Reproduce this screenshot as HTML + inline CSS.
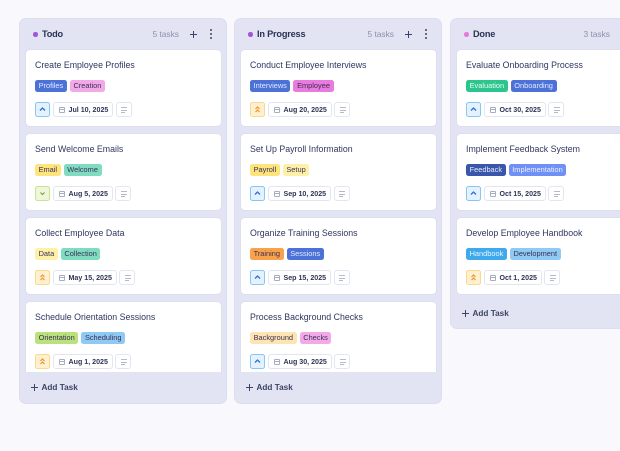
<!DOCTYPE html>
<html><head><meta charset="utf-8">
<style>
*{box-sizing:border-box;margin:0;padding:0}
html,body{width:620px;height:451px;overflow:hidden;background:#f8f8fd;font-family:"Liberation Sans",sans-serif}
.col{position:absolute;top:18px;width:208px;background:#e3e4f3;border:1px solid #dcdef0;border-radius:7px;overflow:hidden}
.hdr{position:absolute;left:0;top:0;width:208px;height:31px}
.dot{position:absolute;left:13px;top:13px;width:4.5px;height:4.5px;border-radius:50%}
.ht{position:absolute;left:22px;top:8.5px;line-height:13px;font-size:9.2px;font-weight:bold;color:#2b3254;letter-spacing:-0.2px}
.cnt{position:absolute;right:49px;top:9px;line-height:12px;font-size:8.4px;color:#8c91ab}
.plus{position:absolute;left:169.5px;top:11.5px;width:7px;height:7px}
.plus:before{content:"";position:absolute;left:0;top:3px;width:7px;height:1px;background:#3c4366}
.plus:after{content:"";position:absolute;left:3px;top:0;width:1px;height:7px;background:#3c4366}
.keb{position:absolute;left:190px;top:10px;width:2px;height:10px}
.keb i{position:absolute;left:0;width:2px;height:2px;border-radius:50%;background:#3c4366}
.list{position:absolute;left:4.5px;top:30px;width:197px;overflow:hidden}
.card{position:relative;width:197px;height:78px;background:#fff;border:1px solid #dcdff0;border-radius:5px;margin-bottom:6px}
.tt{position:absolute;left:9.5px;top:9px;line-height:12px;font-size:8.8px;color:#2f3760;white-space:nowrap}
.tags{position:absolute;left:9.5px;top:30px;height:12px;display:flex;gap:3px}
.tag{height:12px;line-height:12px;font-size:7.4px;padding:0 3.6px;border-radius:2.5px;color:#3a2f55;white-space:nowrap}
.row{position:absolute;left:9.5px;top:52px;height:15px;display:flex;gap:2.5px}
.pri{width:15px;height:15px;border-radius:2.5px;border:1px solid}
.pri svg{display:block}
.up{background:#e3f2fe;border-color:#86c8f4}
.dbl{background:#fff1cf;border-color:#f8d98e}
.dn{background:#eef7da;border-color:#c9e48e}
.date{height:15px;border:1px solid #e3e5f2;border-radius:3px;background:#fff;display:flex;align-items:center;padding:0 4px 0 5px;font-size:7.1px;font-weight:bold;color:#2d3555;white-space:nowrap}
.cal{width:6px;height:6px;border:1px solid #a9adc2;border-radius:1px;margin-right:4px;position:relative}
.cal:before{content:"";position:absolute;left:0;top:1px;width:4px;height:0.8px;background:#a9adc2}
.note{width:16px;height:15px;border:1px solid #e3e5f2;border-radius:3px;background:#fff;position:relative}
.note i{position:absolute;left:4.5px;height:0.9px;background:#b5b9cc}
.add{position:absolute;left:0;width:208px;height:32px}
.add .p{position:absolute;left:10.5px;top:12px;width:7px;height:7px}
.add .p:before{content:"";position:absolute;left:0;top:3px;width:7px;height:1px;background:#3c4366}
.add .p:after{content:"";position:absolute;left:3px;top:0;width:1px;height:7px;background:#3c4366}
.add span{position:absolute;left:21.5px;top:9px;line-height:13px;font-size:8.2px;font-weight:bold;color:#3c4366}
</style></head><body>

<!-- Column 1 -->
<div class="col" style="left:19px;height:386px">
  <div class="hdr"><div class="dot" style="background:#a455d4"></div><div class="ht">Todo</div><div class="cnt">5 tasks</div><div class="plus"></div><div class="keb"><i style="top:0"></i><i style="top:4px"></i><i style="top:8px"></i></div></div>
  <div class="list" style="height:323px">
    <div class="card"><div class="tt">Create Employee Profiles</div>
      <div class="tags"><div class="tag" style="background:#4c72d8;color:#e4eaff">Profiles</div><div class="tag" style="background:#f3a9e8">Creation</div></div>
      <div class="row"><div class="pri up"><svg width="13" height="13"><path d="M4 7.5L6.5 5L9 7.5" fill="none" stroke="#2f6fd0" stroke-width="1.3"/></svg></div><div class="date"><div class="cal"></div>Jul 10, 2025</div><div class="note"><i style="top:4px;width:6px"></i><i style="top:6.5px;width:6px"></i><i style="top:9px;width:4px"></i></div></div></div>
    <div class="card"><div class="tt">Send Welcome Emails</div>
      <div class="tags"><div class="tag" style="background:#fde47c">Email</div><div class="tag" style="background:#80dcc0">Welcome</div></div>
      <div class="row"><div class="pri dn"><svg width="13" height="13"><path d="M4.5 5.5L6.5 7.5L8.5 5.5" fill="none" stroke="#8f9c45" stroke-width="1.2"/></svg></div><div class="date"><div class="cal"></div>Aug 5, 2025</div><div class="note"><i style="top:4px;width:6px"></i><i style="top:6.5px;width:6px"></i><i style="top:9px;width:4px"></i></div></div></div>
    <div class="card"><div class="tt">Collect Employee Data</div>
      <div class="tags"><div class="tag" style="background:#fdf1a8">Data</div><div class="tag" style="background:#80dcc0">Collection</div></div>
      <div class="row"><div class="pri dbl"><svg width="13" height="13"><path d="M4.5 6L6.5 4L8.5 6M4.5 9L6.5 7L8.5 9" fill="none" stroke="#f0922a" stroke-width="1.2"/></svg></div><div class="date"><div class="cal"></div>May 15, 2025</div><div class="note"><i style="top:4px;width:6px"></i><i style="top:6.5px;width:6px"></i><i style="top:9px;width:4px"></i></div></div></div>
    <div class="card"><div class="tt">Schedule Orientation Sessions</div>
      <div class="tags"><div class="tag" style="background:#b9e27c">Orientation</div><div class="tag" style="background:#8fcaf5">Scheduling</div></div>
      <div class="row"><div class="pri dbl"><svg width="13" height="13"><path d="M4.5 6L6.5 4L8.5 6M4.5 9L6.5 7L8.5 9" fill="none" stroke="#f0922a" stroke-width="1.2"/></svg></div><div class="date"><div class="cal"></div>Aug 1, 2025</div><div class="note"><i style="top:4px;width:6px"></i><i style="top:6.5px;width:6px"></i><i style="top:9px;width:4px"></i></div></div></div>
  </div>
  <div class="add" style="top:353px"><div class="p"></div><span>Add Task</span></div>
</div>

<!-- Column 2 -->
<div class="col" style="left:234px;height:386px">
  <div class="hdr"><div class="dot" style="background:#a455d4"></div><div class="ht">In Progress</div><div class="cnt">5 tasks</div><div class="plus"></div><div class="keb"><i style="top:0"></i><i style="top:4px"></i><i style="top:8px"></i></div></div>
  <div class="list" style="height:323px">
    <div class="card"><div class="tt">Conduct Employee Interviews</div>
      <div class="tags"><div class="tag" style="background:#4c72d8;color:#e4eaff">Interviews</div><div class="tag" style="background:#e97ade">Employee</div></div>
      <div class="row"><div class="pri dbl"><svg width="13" height="13"><path d="M4.5 6L6.5 4L8.5 6M4.5 9L6.5 7L8.5 9" fill="none" stroke="#f0922a" stroke-width="1.2"/></svg></div><div class="date"><div class="cal"></div>Aug 20, 2025</div><div class="note"><i style="top:4px;width:6px"></i><i style="top:6.5px;width:6px"></i><i style="top:9px;width:4px"></i></div></div></div>
    <div class="card"><div class="tt">Set Up Payroll Information</div>
      <div class="tags"><div class="tag" style="background:#fde47c">Payroll</div><div class="tag" style="background:#fdf1a8">Setup</div></div>
      <div class="row"><div class="pri up"><svg width="13" height="13"><path d="M4 7.5L6.5 5L9 7.5" fill="none" stroke="#2f6fd0" stroke-width="1.3"/></svg></div><div class="date"><div class="cal"></div>Sep 10, 2025</div><div class="note"><i style="top:4px;width:6px"></i><i style="top:6.5px;width:6px"></i><i style="top:9px;width:4px"></i></div></div></div>
    <div class="card"><div class="tt">Organize Training Sessions</div>
      <div class="tags"><div class="tag" style="background:#f9a24c">Training</div><div class="tag" style="background:#4c72d8;color:#e4eaff">Sessions</div></div>
      <div class="row"><div class="pri up"><svg width="13" height="13"><path d="M4 7.5L6.5 5L9 7.5" fill="none" stroke="#2f6fd0" stroke-width="1.3"/></svg></div><div class="date"><div class="cal"></div>Sep 15, 2025</div><div class="note"><i style="top:4px;width:6px"></i><i style="top:6.5px;width:6px"></i><i style="top:9px;width:4px"></i></div></div></div>
    <div class="card"><div class="tt">Process Background Checks</div>
      <div class="tags"><div class="tag" style="background:#fde4b2">Background</div><div class="tag" style="background:#f3a9e8">Checks</div></div>
      <div class="row"><div class="pri up"><svg width="13" height="13"><path d="M4 7.5L6.5 5L9 7.5" fill="none" stroke="#2f6fd0" stroke-width="1.3"/></svg></div><div class="date"><div class="cal"></div>Aug 30, 2025</div><div class="note"><i style="top:4px;width:6px"></i><i style="top:6.5px;width:6px"></i><i style="top:9px;width:4px"></i></div></div></div>
  </div>
  <div class="add" style="top:353px"><div class="p"></div><span>Add Task</span></div>
</div>

<!-- Column 3 -->
<div class="col" style="left:450px;height:311px">
  <div class="hdr"><div class="dot" style="background:#e77bd9"></div><div class="ht">Done</div><div class="cnt">3 tasks</div><div class="plus"></div><div class="keb"><i style="top:0"></i><i style="top:4px"></i><i style="top:8px"></i></div></div>
  <div class="list" style="height:249px">
    <div class="card"><div class="tt">Evaluate Onboarding Process</div>
      <div class="tags"><div class="tag" style="background:#2ec48e;color:#e6fff5">Evaluation</div><div class="tag" style="background:#4c72d8;color:#e4eaff">Onboarding</div></div>
      <div class="row"><div class="pri up"><svg width="13" height="13"><path d="M4 7.5L6.5 5L9 7.5" fill="none" stroke="#2f6fd0" stroke-width="1.3"/></svg></div><div class="date"><div class="cal"></div>Oct 30, 2025</div><div class="note"><i style="top:4px;width:6px"></i><i style="top:6.5px;width:6px"></i><i style="top:9px;width:4px"></i></div></div></div>
    <div class="card"><div class="tt">Implement Feedback System</div>
      <div class="tags"><div class="tag" style="background:#3a56aa;color:#e4eaff">Feedback</div><div class="tag" style="background:#6f90f5;color:#eef2ff">Implementation</div></div>
      <div class="row"><div class="pri up"><svg width="13" height="13"><path d="M4 7.5L6.5 5L9 7.5" fill="none" stroke="#2f6fd0" stroke-width="1.3"/></svg></div><div class="date"><div class="cal"></div>Oct 15, 2025</div><div class="note"><i style="top:4px;width:6px"></i><i style="top:6.5px;width:6px"></i><i style="top:9px;width:4px"></i></div></div></div>
    <div class="card"><div class="tt">Develop Employee Handbook</div>
      <div class="tags"><div class="tag" style="background:#3fa9ed;color:#eaf6ff">Handbook</div><div class="tag" style="background:#8fcaf5">Development</div></div>
      <div class="row"><div class="pri dbl"><svg width="13" height="13"><path d="M4.5 6L6.5 4L8.5 6M4.5 9L6.5 7L8.5 9" fill="none" stroke="#f0922a" stroke-width="1.2"/></svg></div><div class="date"><div class="cal"></div>Oct 1, 2025</div><div class="note"><i style="top:4px;width:6px"></i><i style="top:6.5px;width:6px"></i><i style="top:9px;width:4px"></i></div></div></div>
  </div>
  <div class="add" style="top:279px"><div class="p"></div><span>Add Task</span></div>
</div>

</body></html>
